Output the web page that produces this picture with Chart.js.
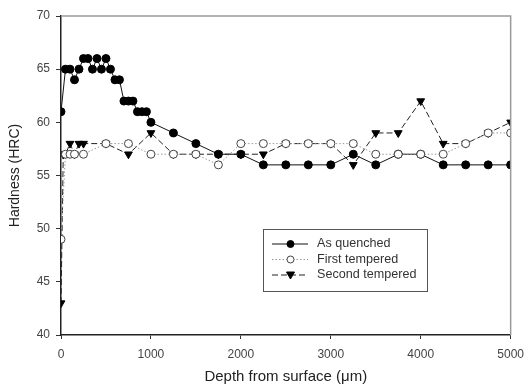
<!DOCTYPE html>
<html>
<head>
  <meta charset="utf-8">
  <script src="https://cdn.jsdelivr.net/npm/chart.js@4.4.0/dist/chart.umd.min.js"></script>
  <style>
    html, body { margin: 0; padding: 0; background: #fff; }
    #wrap { position: relative; width: 532px; height: 390px; }
  </style>
</head>
<body>
  <div id="wrap"><canvas id="myChart" width="532" height="390"></canvas></div>

  <script type="text/javascript">
    // depth (um) and hardness (HRC)
    var depthAQ = [0, 50, 100, 150, 200, 250, 300, 350, 400, 450, 500, 550, 600, 650, 700, 750, 800, 850, 900, 950, 1000,
                   1250, 1500, 1750, 2000, 2250, 2500, 2750, 3000, 3250, 3500, 3750, 4000, 4250, 4500, 4750, 5000];
    var hardAQ  = [61, 65, 65, 64, 65, 66, 66, 65, 66, 65, 66, 65, 64, 64, 62, 62, 62, 61, 61, 61, 60,
                   59, 58, 57, 57, 56, 56, 56, 56, 57, 56, 57, 57, 56, 56, 56, 56];

    var depthT1 = [0, 50, 100, 150, 250, 500, 750, 1000, 1250, 1500, 1750, 2000, 2250, 2500, 2750, 3000, 3250, 3500, 3750, 4000, 4250, 4500, 4750, 5000];
    var hardT1  = [49, 57, 57, 57, 57, 58, 58, 57, 57, 57, 56, 58, 58, 58, 58, 58, 58, 57, 57, 57, 57, 58, 59, 59];

    var depthT2 = [0, 25, 50, 100, 150, 200, 250, 500, 750, 1000, 1250, 1500, 1750, 2000, 2250, 2500, 2750, 3000, 3250, 3500, 3750, 4000, 4250, 4500, 4750, 5000];
    var hardT2  = [43, 57, 57, 58, 57, 58, 58, 58, 57, 59, 57, 57, 57, 57, 57, 58, 58, 58, 56, 59, 59, 62, 58, 58, 59, 60];

    var seriesNames = ['As quenched', 'First tempered', 'Second tempered'];
    var xTicks = [0, 1000, 2000, 3000, 4000, 5000];
    var yTicks = [40, 45, 50, 55, 60, 65, 70];

    function pts(xs, ys) {
      return xs.map(function(x, i) { return { x: x, y: ys[i] }; });
    }

    var font = "'Liberation Sans', Arial, sans-serif";

    // frame on top/right plus the inset legend
    var extras = {
      id: 'extras',
      afterDraw: function(chart) {
        var ctx = chart.ctx, a = chart.chartArea;
        ctx.save();
        ctx.strokeStyle = '#9a9a9a';
        ctx.lineWidth = 1.5;
        ctx.beginPath();
        ctx.moveTo(a.left, a.top);
        ctx.lineTo(a.right, a.top);
        ctx.lineTo(a.right, a.bottom);
        ctx.stroke();

        // legend box
        var bx = 263, by = 229, bw = 164, bh = 62;
        ctx.strokeStyle = '#555';
        ctx.lineWidth = 1;
        ctx.strokeRect(bx + 0.5, by + 0.5, bw, bh);
        ctx.font = '12.6px ' + font;
        ctx.textBaseline = 'middle';
        chart.data.datasets.forEach(function(ds, i) {
          var y = by + 15 + i * 15.5;
          ctx.strokeStyle = ds.borderColor;
          ctx.lineWidth = 1;
          ctx.setLineDash(ds.borderDash || []);
          ctx.beginPath();
          ctx.moveTo(272, y);
          ctx.lineTo(308, y);
          ctx.stroke();
          ctx.setLineDash([]);
          ctx.fillStyle = ds.pointBackgroundColor;
          ctx.strokeStyle = ds.pointBorderColor;
          ctx.beginPath();
          if (ds.pointStyle === 'circle') {
            ctx.arc(290.5, y, 3.5, 0, Math.PI * 2);
          } else {
            ctx.moveTo(286.5, y - 3);
            ctx.lineTo(294.5, y - 3);
            ctx.lineTo(290.5, y + 4);
            ctx.closePath();
          }
          ctx.fill();
          ctx.stroke();
          ctx.fillStyle = '#333';
          ctx.fillText(ds.label, 317, y);
        });
        ctx.restore();
      }
    };

    var ctx = document.getElementById('myChart').getContext('2d');
    var hardnessChart = new Chart(ctx, {
      type: 'line',
      data: {
        datasets: [
          {
            label: seriesNames[0],
            data: pts(depthAQ, hardAQ),
            borderColor: '#111',
            borderWidth: 1,
            pointStyle: 'circle',
            pointRadius: 4,
            pointBackgroundColor: '#000',
            pointBorderColor: '#000',
            order: 3
          },
          {
            label: seriesNames[1],
            data: pts(depthT1, hardT1),
            borderColor: '#999',
            borderWidth: 1,
            borderDash: [1.5, 2],
            pointStyle: 'circle',
            pointRadius: 4,
            pointBackgroundColor: '#fff',
            pointBorderColor: '#444',
            order: 1
          },
          {
            label: seriesNames[2],
            data: pts(depthT2, hardT2),
            borderColor: '#222',
            borderWidth: 1,
            borderDash: [6, 3],
            pointStyle: 'triangle',
            rotation: 180,
            pointRadius: 4.5,
            pointBackgroundColor: '#000',
            pointBorderColor: '#000',
            order: 2
          }
        ]
      },
      options: {
        responsive: false,
        animation: false,
        layout: { padding: { top: 16, right: 15, left: 0, bottom: 0 } },
        plugins: { legend: { display: false }, tooltip: { enabled: false } },
        scales: {
          x: {
            type: 'linear',
            min: 0, max: 5000,
            afterBuildTicks: function(s) { s.ticks = xTicks.map(function(v) { return { value: v }; }); },
            afterFit: function(s) { s.height = 55; },
            grid: { drawOnChartArea: false, tickLength: 4, color: '#333' },
            border: { color: '#222', width: 1.5 },
            ticks: {
              color: '#444', font: { family: font, size: 12 }, padding: 8, maxRotation: 0,
              callback: function(v) { return String(v); }
            },
            title: { display: true, text: 'Depth from surface (\u03bcm)', color: '#222', font: { family: font, size: 15 }, padding: { top: 0 } }
          },
          y: {
            min: 40, max: 70,
            afterBuildTicks: function(s) { s.ticks = yTicks.map(function(v) { return { value: v }; }); },
            afterFit: function(s) { s.width = 61; },
            grid: { drawOnChartArea: false, tickLength: 5, color: '#333' },
            border: { color: '#222', width: 1.5 },
            ticks: { color: '#444', font: { family: font, size: 12 }, padding: 6 },
            title: { display: true, text: 'Hardness (HRC)', color: '#222', font: { family: font, size: 14 }, padding: { top: 7, bottom: 0 } }
          }
        }
      },
      plugins: [extras]
    });
  </script>
</body>
</html>
